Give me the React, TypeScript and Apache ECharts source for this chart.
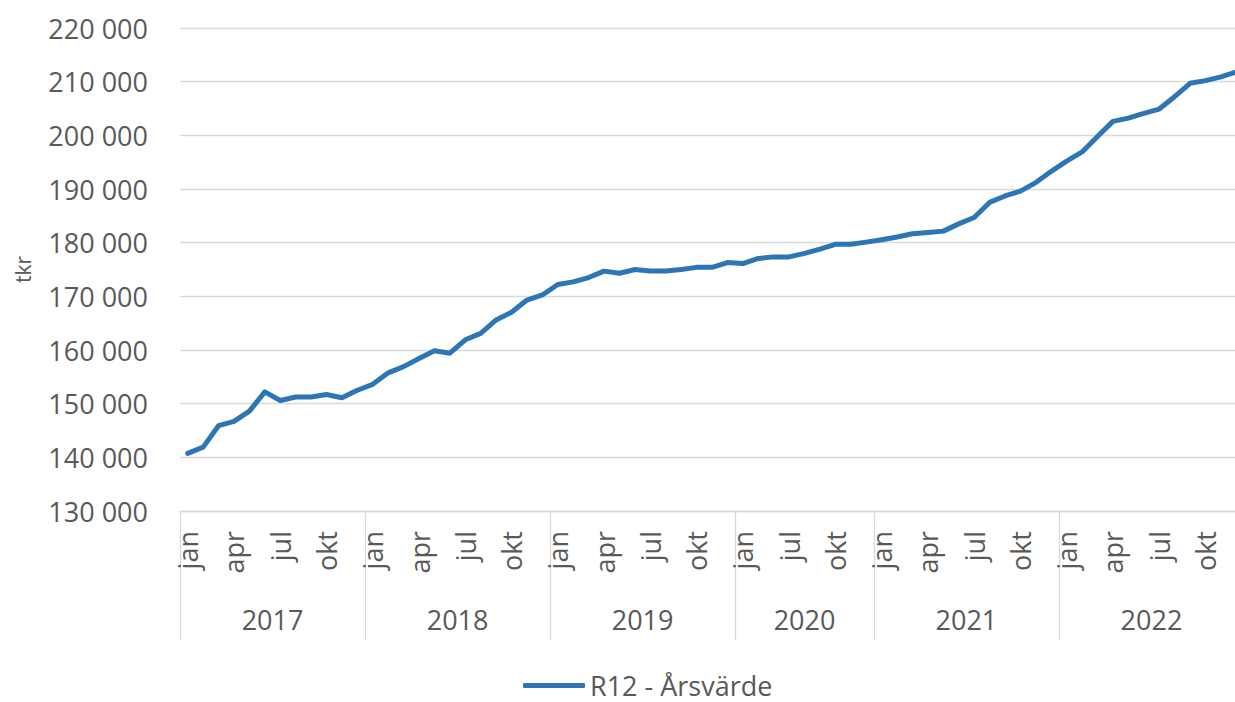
import React, { useEffect, useRef } from "react";
import * as echarts from "echarts";

// Category structure
const years = ["2017", "2018", "2019", "2020", "2021", "2022"];
const monthNames = ["jan", "feb", "mar", "apr", "maj", "jun", "jul", "aug", "sep", "okt", "nov", "dec"];
const months2020 = ["jan", "feb", "mar", "jul", "aug", "sep", "okt", "nov", "dec"];
const monthsPerYear = [monthNames, monthNames, monthNames, months2020, monthNames, monthNames];

// R12 - Årsvärde (tkr), per year
const r12_2017 = [140750, 141900, 145900, 146700, 148600, 152200, 150600, 151250, 151250, 151700, 151100, 152500];
const r12_2018 = [153600, 155750, 156900, 158400, 159850, 159400, 161900, 163100, 165600, 167050, 169300, 170250];
const r12_2019 = [172200, 172700, 173500, 174700, 174300, 175000, 174700, 174700, 175000, 175400, 175400, 176300];
const r12_2020 = [176100, 177050, 177350, 177350, 178000, 178800, 179700, 179700, 180100];
const r12_2021 = [180550, 181050, 181650, 181900, 182150, 183500, 184700, 187500, 188700, 189600, 191200, 193300];
const r12_2022 = [195200, 196900, 199800, 202600, 203200, 204100, 204900, 207200, 209700, 210200, 210900, 211800];
const seriesByYear = [r12_2017, r12_2018, r12_2019, r12_2020, r12_2021, r12_2022];

const yMin = 130000;
const yMax = 220000;
const yStep = 10000;

const seriesName = "R12 - Årsvärde";
const axisName = "tkr";

export default function App() {
  const ref = useRef<HTMLDivElement>(null);

  useEffect(() => {
    if (!ref.current) return;
    const chart = echarts.init(ref.current, undefined, { renderer: "svg" });

    const monthCats: string[] = [];
    monthsPerYear.forEach((ms, yi) => ms.forEach((m) => monthCats.push(m + " " + years[yi])));
    const values: number[] = ([] as number[]).concat(...seriesByYear);

    // Year axis on a half-month grid (boundaryGap false)
    const total = monthCats.length;
    const halfCats: string[] = [];
    for (let i = 0; i <= total * 2; i++) halfCats.push("h" + i);
    const boundaries = new Set<number>();
    const mids = new Map<number, string>();
    let acc = 0;
    boundaries.add(0);
    monthsPerYear.forEach((ms, yi) => {
      mids.set(acc * 2 + ms.length, years[yi]);
      acc += ms.length;
      boundaries.add(acc * 2);
    });

    const textColor = "#595959";
    const font = "'Open Sans', 'Liberation Sans', sans-serif";

    chart.setOption({
      animation: false,
      backgroundColor: "#ffffff",
      textStyle: { fontFamily: font },
      grid: {
        left: 180,
        top: 28,
        width: 1064,
        bottom: 191,
        containLabel: false,
        outerBoundsMode: "none",
      },
      legend: {
        show: true,
        left: 518,
        top: 667,
        icon: "roundRect",
        itemWidth: 62,
        itemHeight: 5,
        textStyle: { fontSize: 27, color: textColor, fontFamily: font },
        data: [seriesName],
      },
      xAxis: [
        {
          type: "category",
          data: monthCats,
          boundaryGap: true,
          axisLine: { show: true, lineStyle: { color: "#d9d9d9", width: 1.3 } },
          axisTick: { show: false },
          axisLabel: {
            interval: 2,
            rotate: 90,
            margin: 20,
            fontSize: 27,
            color: textColor,
            fontFamily: font,
            formatter: (v: string) => v.split(" ")[0],
          },
          splitLine: { show: false },
        },
        {
          type: "category",
          data: halfCats,
          boundaryGap: false,
          position: "bottom",
          axisLine: { show: false },
          axisTick: {
            show: true,
            length: 129,
            interval: (idx: number) => boundaries.has(idx),
            lineStyle: { color: "#d9d9d9", width: 1.3 },
          },
          axisLabel: {
            show: true,
            interval: (idx: number) => mids.has(idx),
            formatter: (_v: string, idx: number) => mids.get(idx) || "",
            margin: 95,
            fontSize: 27,
            color: textColor,
            fontFamily: font,
          },
          splitLine: { show: false },
        },
      ],
      yAxis: {
        type: "value",
        min: yMin,
        max: yMax,
        interval: yStep,
        name: axisName,
        nameLocation: "middle",
        nameGap: 147,
        nameRotate: 90,
        nameTextStyle: { fontSize: 21, color: textColor, fontFamily: font },
        axisLine: { show: false },
        axisTick: { show: false },
        axisLabel: {
          margin: 32,
          fontSize: 27,
          color: textColor,
          fontFamily: font,
          formatter: (v: number) => String(v).replace(/\B(?=(\d{3})+(?!\d))/g, " "),
        },
        splitLine: { show: true, lineStyle: { color: "#d9d9d9", width: 1.3 } },
      },
      series: [
        {
          name: seriesName,
          type: "line",
          data: values,
          showSymbol: false,
          symbol: "none",
          lineStyle: { color: "#2E75B6", width: 5, cap: "round", join: "round" },
          itemStyle: { color: "#2E75B6" },
        },
      ],
    });

    return () => chart.dispose();
  }, []);

  return (
    <div
      ref={ref}
      style={{ position: "fixed", left: 0, top: 0, width: 1235, height: 702, background: "#fff" }}
    />
  );
}
